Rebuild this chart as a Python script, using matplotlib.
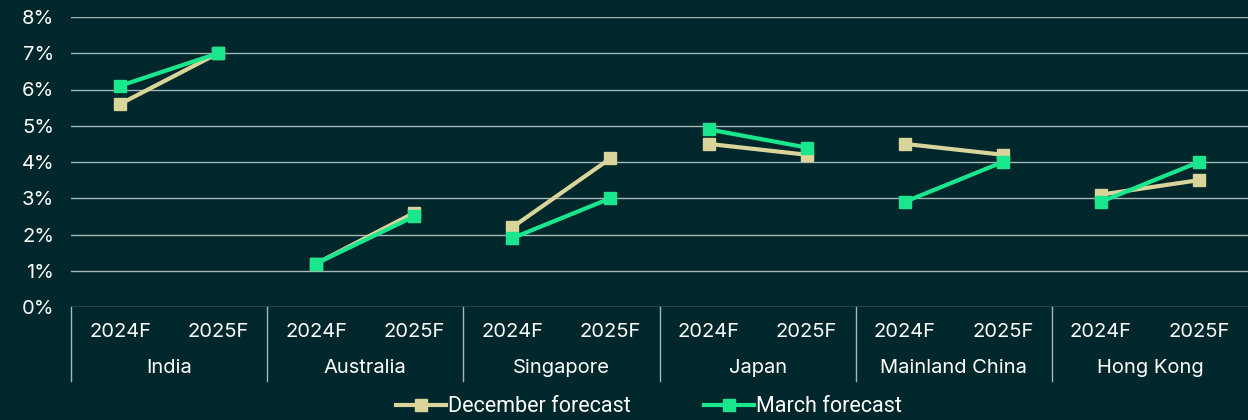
import matplotlib.pyplot as plt
import matplotlib.transforms as mtransforms

countries = ["India", "Australia", "Singapore", "Japan", "Mainland China", "Hong Kong"]
years = ["2024F", "2025F"]
december = [[5.6, 7.0], [1.2, 2.6], [2.2, 4.1], [4.5, 4.2], [4.5, 4.2], [3.1, 3.5]]
march = [[6.1, 7.0], [1.2, 2.5], [1.9, 3.0], [4.9, 4.4], [2.9, 4.0], [2.9, 4.0]]
yticks = [0, 1, 2, 3, 4, 5, 6, 7, 8]

bg = "#00272b"
dec_color = "#d8d49a"
mar_color = "#1ae68e"
grid_color = "#a8b8b8"

fig = plt.figure(figsize=(12.48, 4.2), dpi=100, facecolor=bg)
ax = fig.add_axes([71 / 1248, 1 - 307 / 420, 1 - 71 / 1248, 290 / 420])
ax.set_facecolor(bg)

for i in range(len(countries)):
    xs = [i + 0.25, i + 0.75]
    ax.plot(xs, december[i], color=dec_color, lw=3, marker="s", ms=8,
            mec=dec_color, zorder=3, label="December forecast" if i == 0 else None)
    ax.plot(xs, march[i], color=mar_color, lw=3, marker="s", ms=8,
            mec=mar_color, zorder=4, label="March forecast" if i == 0 else None)

ax.set_xlim(0, len(countries))
ax.set_ylim(0, 8)
ax.set_yticks(yticks)
ax.set_yticklabels([f"{t}%" for t in yticks], color="white", fontsize=14.5, family="Inter")
ax.tick_params(axis="y", length=0, pad=12)
ax.set_xticks([])
for y in yticks:
    ax.axhline(y, color=grid_color, lw=1, zorder=1)
for s in ax.spines.values():
    s.set_visible(False)

trans = mtransforms.blended_transform_factory(ax.transData, ax.transAxes)
for i, c in enumerate(countries):
    ax.plot([i, i], [0, -0.255], transform=trans, color=grid_color, lw=1, clip_on=False)
    for j, yr in enumerate(years):
        ax.text(i + 0.25 + 0.5 * j, -0.086, yr, transform=trans, ha="center", va="center",
                color="white", fontsize=14.5, family="Inter")
    ax.text(i + 0.5, -0.212, c, transform=trans, ha="center", va="center",
            color="white", fontsize=14.5, family="Inter")

leg = fig.legend(loc="center", bbox_to_anchor=(0.52, 1 - 407 / 420), ncol=2, frameon=False,
                 handlelength=2.3, columnspacing=3.4, handletextpad=0.1,
                 prop={"family": "Roboto", "size": 15.5})
for t in leg.get_texts():
    t.set_color("white")

fig.savefig("out.png", dpi=100, facecolor=bg)
